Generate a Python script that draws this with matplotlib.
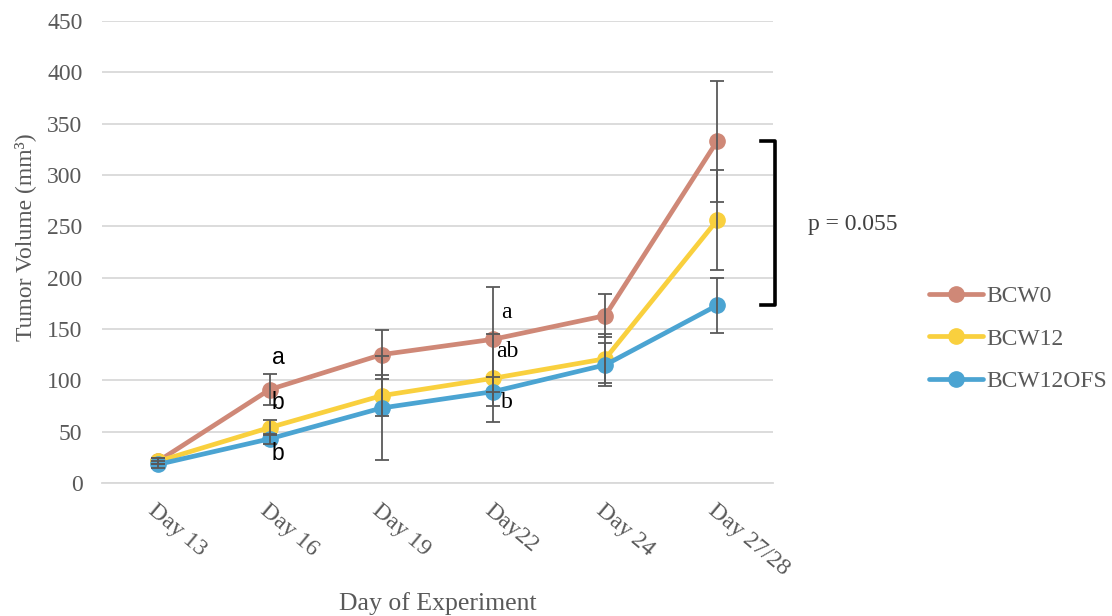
import numpy as np
import matplotlib.pyplot as plt

# Tumor volume per group over the experiment (mean and error)
days = ['Day 13', 'Day 16', 'Day 19', 'Day22', 'Day 24', 'Day 27/28']
groups = ['BCW0', 'BCW12', 'BCW12OFS']
colores = ['#CF8877', '#F9D03E', '#4BA4D2']

bcw0 = [21, 91, 125, 140, 163, 333]
bcw12 = [21, 54, 85, 102, 121, 256]
bcw12ofs = [18, 43, 73, 89, 115, 173]

err_bcw0 = [3, 15, 24, 51, 21, 59]
err_bcw12 = [3, 7, 20, 43, 24, 49]
err_bcw12ofs = [3, 5, 51, 14, 21, 27]

# Letras de significancia: (dia, valor, texto, fuente)
letras = [
    (1, 122, 'a', 'sans'), (1, 78, 'b', 'sans'), (1, 29, 'b', 'sans'),
    (3, 166, 'a', 'serif'), (3, 128, 'ab', 'serif'), (3, 78, 'b', 'serif'),
]

plt.rcParams['font.family'] = ['Liberation Serif', 'DejaVu Serif']
gris = '#595959'
fs = 17

fig = plt.figure(figsize=(11.12, 6.16), dpi=100)
ax = fig.add_axes([0.0917, 0.216, 0.6035, 0.7499])

x = np.arange(len(days))
series = [bcw0, bcw12, bcw12ofs]
errores = [err_bcw0, err_bcw12, err_bcw12ofs]

for nombre, vals, err, c in zip(groups, series, errores, colores):
    ax.plot(x, vals, color=c, lw=3.4, marker='o', ms=11, label=nombre,
            solid_capstyle='round', zorder=3)
    ax.errorbar(x, vals, yerr=err, fmt='none', ecolor=gris, elinewidth=1.3,
                capsize=5, capthick=1.3, zorder=4)

ax.set_xlim(-0.5, len(days) - 0.5)
ax.set_ylim(0, 450)
ax.set_yticks(np.arange(0, 451, 50))
ax.yaxis.grid(True, color='#D9D9D9', lw=1.3)
ax.set_axisbelow(True)
for s in ['top', 'right', 'left']:
    ax.spines[s].set_visible(False)
ax.spines['bottom'].set_color('#D9D9D9')
ax.spines['bottom'].set_linewidth(1.3)
ax.tick_params(length=0, labelsize=fs, labelcolor=gris)
ax.tick_params(axis='y', pad=14)

ax.set_xticks(x)
ax.set_xticklabels(days, rotation=-40, ha='left', va='top',
                   rotation_mode='anchor')
ax.tick_params(axis='x', pad=12)

ax.set_xlabel('Day of Experiment', fontsize=18.5, color=gris, va='center')
ax.xaxis.set_label_coords(0.5, -0.262)
ax.set_ylabel('Tumor Volume (mm³)', fontsize=fs, color=gris, va='center')
ax.yaxis.set_label_coords(-0.115, 0.532)

for d, v, t, f in letras:
    if f == 'sans':
        ax.text(d + 0.077, v, t, fontsize=16.5, family=['Liberation Sans', 'DejaVu Sans'],
                ha='center', va='center', color='black', zorder=5)
    else:
        ax.text(d + 0.12, v, t, fontsize=fs, ha='center', va='center',
                color='black', zorder=5)

# Corchete para el ultimo dia
top, bot = bcw0[-1], bcw12ofs[-1]
xb = len(days) - 0.5 + 0.02
ax.plot([xb - 0.13, xb, xb, xb - 0.13], [top, top, bot, bot], color='black',
        lw=2.6, clip_on=False, solid_joinstyle='round')
ax.text(xb + 0.29, (top + bot) / 2 - 1, 'p = 0.055', fontsize=fs, color='#404040',
        va='center', ha='left')

leg = ax.legend(loc='center left', bbox_to_anchor=(1.218, 0.312), frameon=False,
                borderaxespad=0, fontsize=fs, labelcolor=gris, handlelength=2.3,
                handletextpad=0.15, labelspacing=0.9)

fig.savefig('out.png', dpi=100)
